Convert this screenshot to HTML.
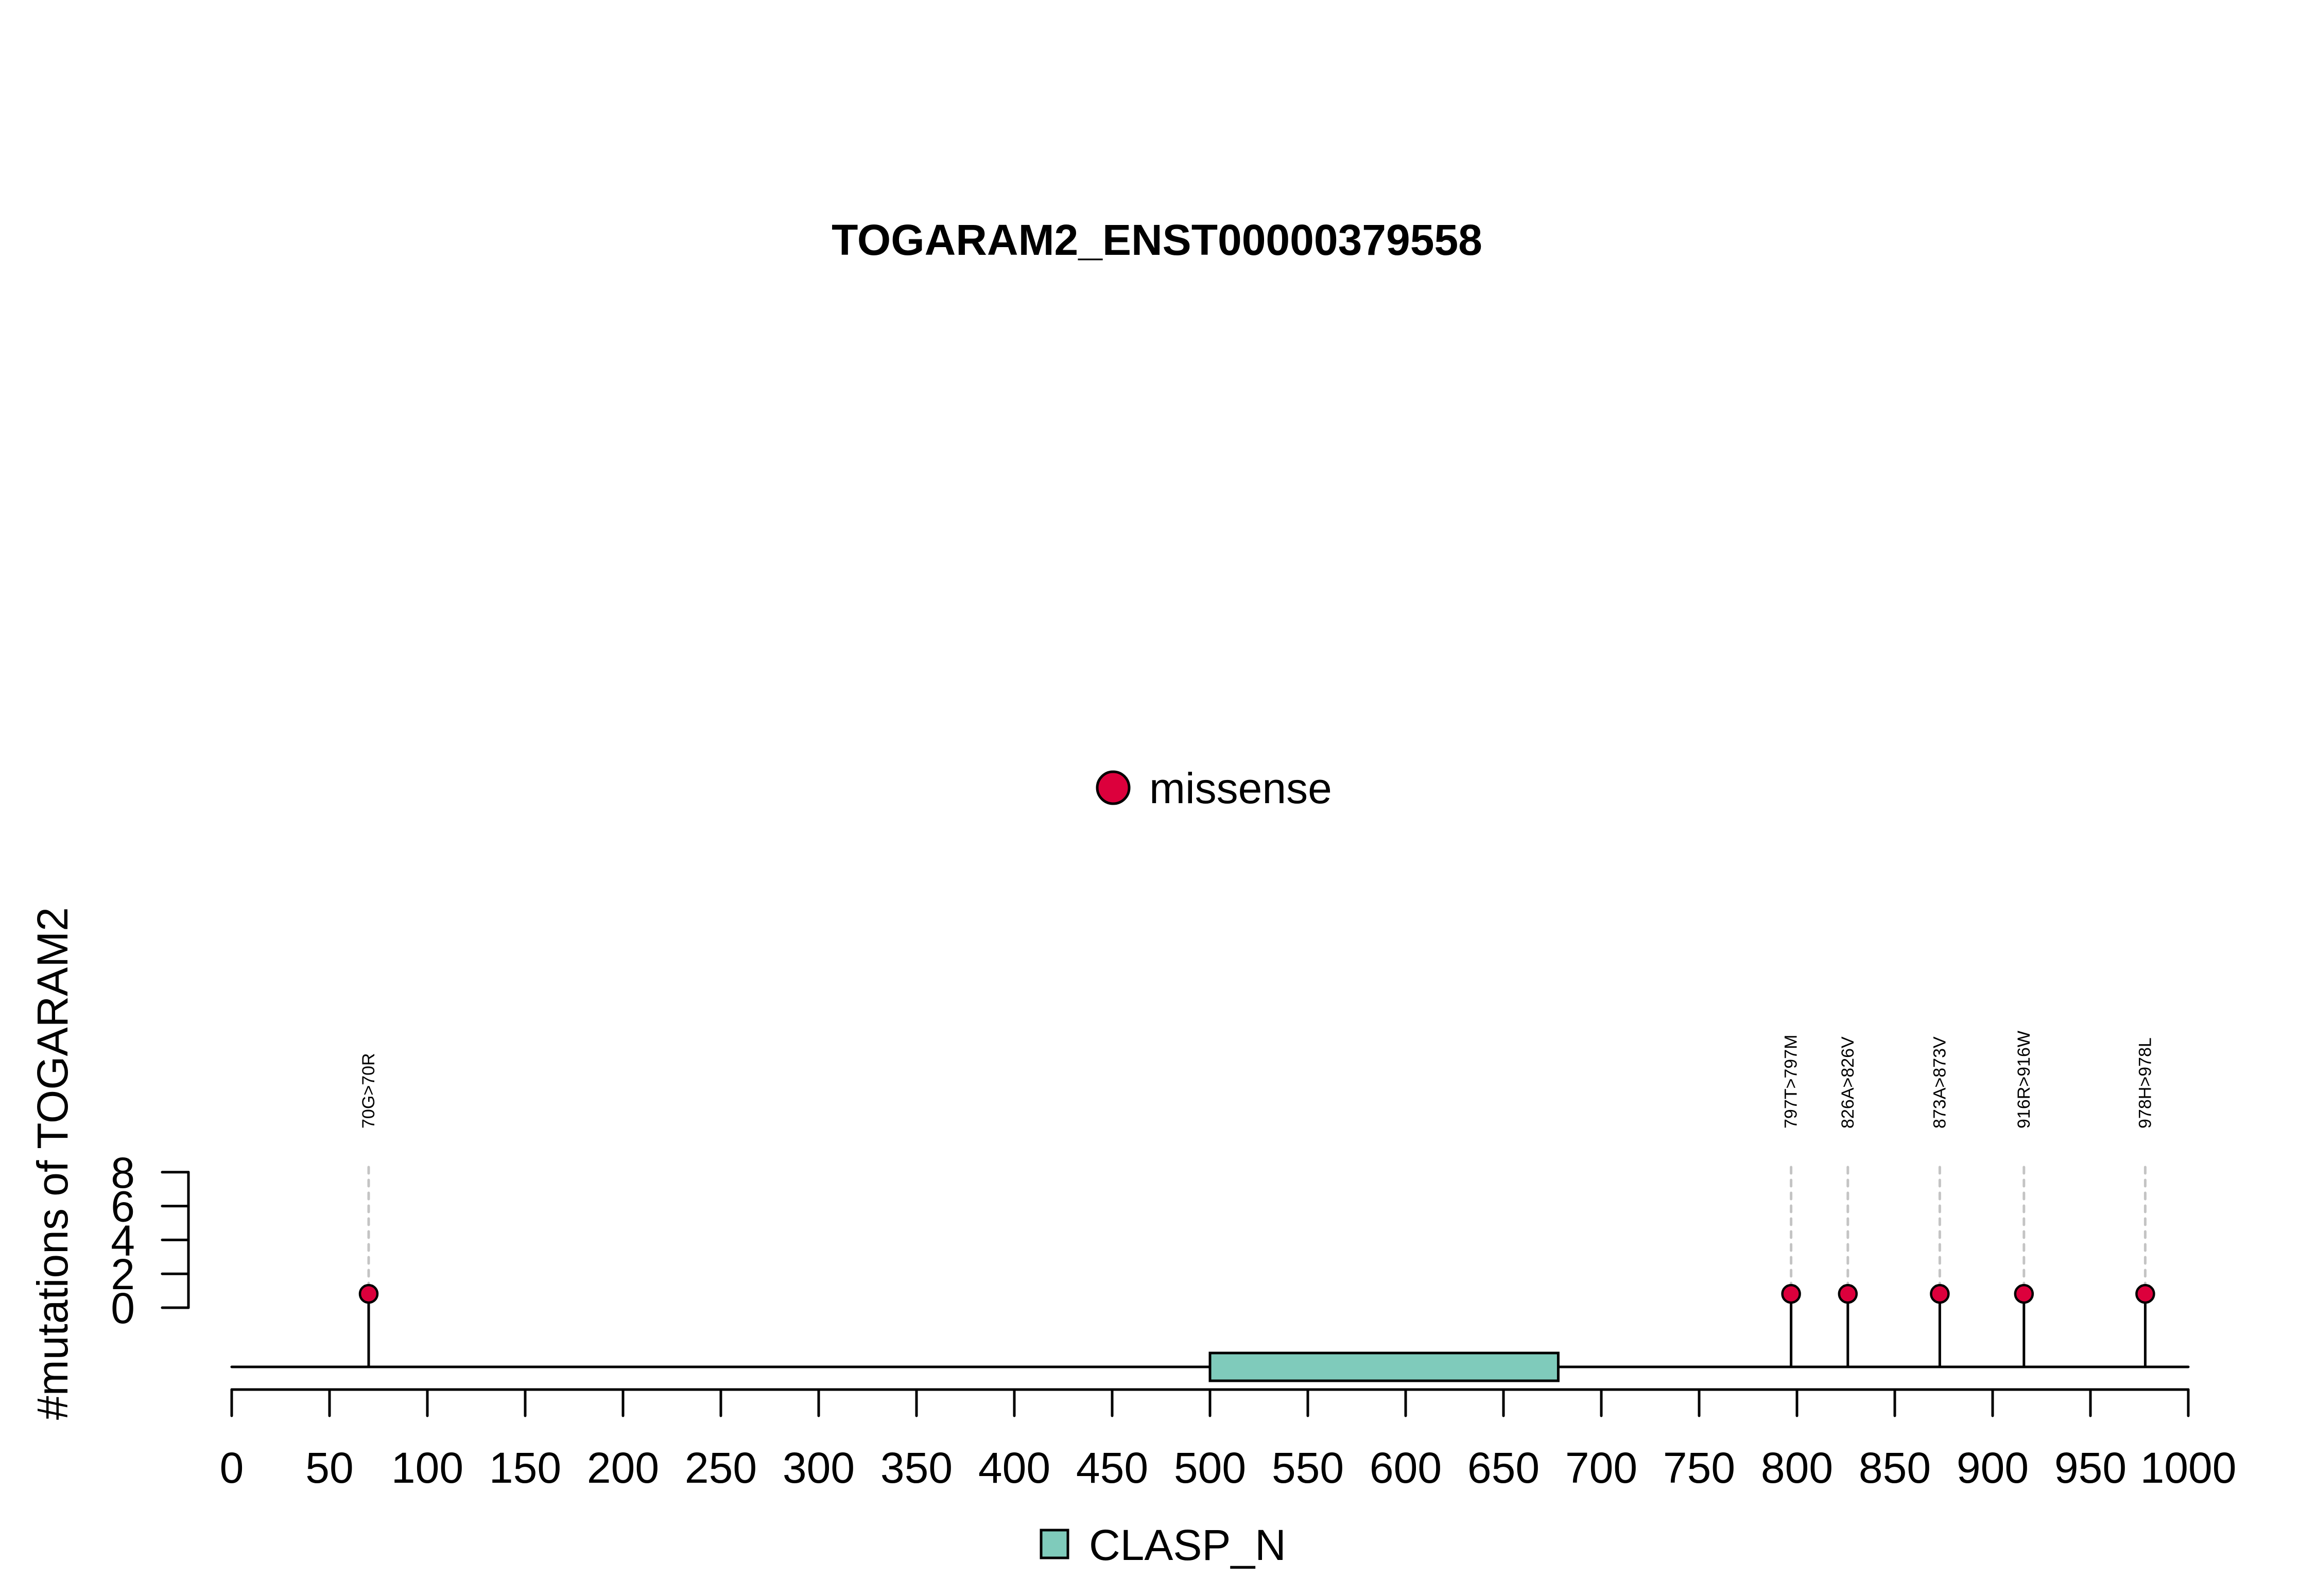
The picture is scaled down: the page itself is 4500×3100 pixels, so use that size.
<!DOCTYPE html>
<html><head><meta charset="utf-8"><style>html,body{margin:0;padding:0;background:#fff}svg{display:block}</style></head>
<body>
<svg id="chart" xmlns="http://www.w3.org/2000/svg" width="4500" height="3100" viewBox="0 0 4500 3100" font-family="Liberation Sans, Arial, sans-serif">
<rect width="4500" height="3100" fill="#fff"/>
<text x="2247" y="495" font-size="84" font-weight="bold" text-anchor="middle">TOGARAM2_ENST00000379558</text>
<g>
<circle cx="2162" cy="1530" r="31" fill="#dc003c" stroke="#000" stroke-width="5"/>
<text x="2232" y="1560" font-size="84">missense</text>
</g>
<text transform="translate(131,2758) rotate(-90)" font-size="84">#mutations of TOGARAM2</text>
<g id="yaxis"></g>
<g id="xaxis"></g>
<line x1="450" y1="2655" x2="4250" y2="2655" stroke="#000" stroke-width="5" stroke-linecap="round"/>
<g id="domains"></g>
<g id="lollipops"></g>
<g>
<rect x="2022" y="2972" width="52" height="54" fill="#7fcbbb" stroke="#000" stroke-width="5"/>
<text x="2115" y="3030" font-size="84">CLASP_N</text>
</g>
</svg>
<script>
const positions = [70, 797, 826, 873, 916, 978];
const counts = [1, 1, 1, 1, 1, 1];
const mutLabels = ["70G>70R", "797T>797M", "826A>826V", "873A>873V", "916R>916W", "978H>978L"];
const xTicks = [0,50,100,150,200,250,300,350,400,450,500,550,600,650,700,750,800,850,900,950,1000];
const yTicks = [0,2,4,6,8];
const domainStarts = [500];
const domainEnds = [678];
const domainNames = ["CLASP_N"];

const NS = "http://www.w3.org/2000/svg";
const X = v => 450 + v * 3.8;
const Y = v => 2540 - v * 32.9;
function mk(tag, attrs, parent) {
  const e = document.createElementNS(NS, tag);
  for (const k in attrs) e.setAttribute(k, attrs[k]);
  parent.appendChild(e);
  return e;
}
const xa = document.getElementById('xaxis');
let l = mk('line', {x1: X(xTicks[0]), y1: 2699, x2: X(xTicks[xTicks.length-1]), y2: 2699, stroke: '#000', 'stroke-width': 5, 'stroke-linecap': 'round'}, xa);


xTicks.forEach(t => {
  const tk = mk('line', {x1: X(t), y1: 2699, x2: X(t), y2: 2750, stroke: '#000', 'stroke-width': 5, 'stroke-linecap': 'round'}, xa);
  
  
  const tx = mk('text', {x: X(t), y: 2880, 'font-size': 84, 'text-anchor': 'middle'}, xa);
  tx.textContent = t;
  
  
});
const ya = document.getElementById('yaxis');
l = mk('line', {x1: 366, y1: Y(yTicks[0]), x2: 366, y2: Y(yTicks[yTicks.length-1]), stroke: '#000', 'stroke-width': 5, 'stroke-linecap': 'round'}, ya);


yTicks.forEach(t => {
  const tk = mk('line', {x1: 315, y1: Y(t), x2: 366, y2: Y(t), stroke: '#000', 'stroke-width': 5, 'stroke-linecap': 'round'}, ya);
  
  
  const tx = mk('text', {x: 262, y: Y(t) + 30, 'font-size': 84, 'text-anchor': 'end'}, ya);
  tx.textContent = t;
  
  
});
const dg = document.getElementById('domains');
domainStarts.forEach((s, i) => {
  const r = mk('rect', {x: X(s), y: 2628, width: X(domainEnds[i]) - X(s), height: 54, fill: '#7fcbbb', stroke: '#000', 'stroke-width': 5}, dg);
  
  
});
const lg = document.getElementById('lollipops');
positions.forEach((p, i) => {
  const x = X(p), y = Y(counts[i]) + 6;
  const dash = mk('line', {x1: x, y1: 2267, x2: x, y2: y, stroke: '#c4c4c4', 'stroke-width': 5, 'stroke-dasharray': '12 13', 'stroke-linecap': 'round'}, lg);
  
  
  const st = mk('line', {x1: x, y1: y, x2: x, y2: 2655, stroke: '#000', 'stroke-width': 5}, lg);
  
  
  const c = mk('circle', {cx: x, cy: y, r: 17, fill: '#dc003c', stroke: '#000', 'stroke-width': 4.5}, lg);
  
  
  const t = mk('text', {transform: 'translate(' + (x + 11) + ',2192) rotate(-90)', 'font-size': 34}, lg);
  t.textContent = mutLabels[i];
  
  
});
</script>
</body></html>
